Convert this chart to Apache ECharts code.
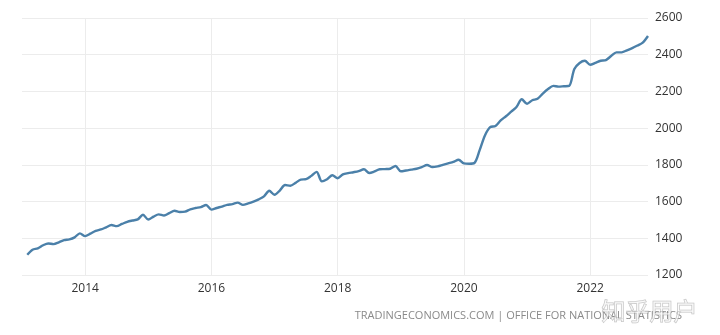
<!DOCTYPE html>
<html>
<head>
<meta charset="utf-8">
<script src="https://cdn.jsdelivr.net/npm/echarts@6/dist/echarts.min.js"></script>
<style>
  html, body { margin: 0; padding: 0; background: #fff; }
  #chart { width: 720px; height: 335px; }
</style>
</head>
<body>
<div id="chart"></div>
<script>
// Monthly series, Feb 2013 – Dec 2022
const startYear = 2013;
const startMonth = 2;
const values = [
  /* 2013 */ 1310, 1338, 1345, 1362, 1372, 1368, 1378, 1390, 1394, 1405, 1427,
  /* 2014 */ 1412, 1425, 1440, 1448, 1460, 1472, 1466, 1478, 1490, 1497, 1503, 1528,
  /* 2015 */ 1502, 1518, 1530, 1524, 1537, 1550, 1543, 1545, 1558, 1565, 1570, 1581,
  /* 2016 */ 1556, 1565, 1573, 1582, 1586, 1594, 1582, 1590, 1600, 1612, 1628, 1659,
  /* 2017 */ 1637, 1660, 1690, 1686, 1702, 1720, 1722, 1740, 1762, 1710, 1722, 1743,
  /* 2018 */ 1727, 1748, 1755, 1760, 1766, 1776, 1756, 1764, 1776, 1777, 1779, 1794,
  /* 2019 */ 1765, 1769, 1774, 1779, 1788, 1799, 1788, 1792, 1800, 1808, 1816, 1828,
  /* 2020 */ 1808, 1806, 1810, 1880, 1960, 2005, 2012, 2042, 2065, 2090, 2115, 2157,
  /* 2021 */ 2133, 2152, 2160, 2188, 2213, 2230, 2226, 2228, 2230, 2322, 2355, 2367,
  /* 2022 */ 2345, 2356, 2367, 2371, 2393, 2413, 2413, 2424, 2436, 2450, 2466, 2502
];
const yearTicks = [2014, 2016, 2018, 2020, 2022];
const yTicks = [1200, 1400, 1600, 1800, 2000, 2200, 2400, 2600];
const sourceText = 'TRADINGECONOMICS.COM | OFFICE FOR NATIONAL STATISTICS';
const watermarkText = '知乎用户';

// pair each value with its month expressed as a fractional year
const points = values.map((v, i) => {
  const m = startMonth - 1 + i;
  return [startYear + Math.floor(m / 12) + (m % 12) / 12, v];
});

const chart = echarts.init(document.getElementById('chart'));
chart.setOption({
  animation: false,
  backgroundColor: '#ffffff',
  grid: { left: 22, right: 72, top: 18, bottom: 60 },
  xAxis: {
    type: 'value',
    min: 2013,
    max: 2022 + 11 / 12,
    axisLine: { show: false },
    axisTick: { show: false, customValues: yearTicks },
    axisLabel: {
      customValues: yearTicks,
      color: '#333',
      fontSize: 12,
      fontFamily: 'Open Sans',
      margin: 8,
      formatter: v => String(v)
    },
    splitLine: { show: true, lineStyle: { color: '#ececec', width: 1 } }
  },
  yAxis: {
    type: 'value',
    position: 'right',
    min: 1200,
    max: 2600,
    interval: 200,
    axisLine: { show: false },
    axisTick: { show: false },
    axisLabel: {
      color: '#333',
      fontSize: 12,
      fontFamily: 'Open Sans',
      margin: 7,
      formatter: v => yTicks.includes(v) ? String(v) : ''
    },
    splitLine: { lineStyle: { color: '#ececec', width: 1 } }
  },
  series: [{
    type: 'line',
    data: points,
    showSymbol: false,
    smooth: 0.3,
    lineStyle: { color: '#4b80a9', width: 2.4 },
    itemStyle: { color: '#4b80a9' }
  }],
  graphic: [
    {
      type: 'text',
      right: 38,
      top: 310,
      style: {
        text: sourceText,
        fill: '#8a8a8a',
        font: '11px "Open Sans"'
      }
    },
    {
      type: 'text',
      right: 22,
      top: 298,
      style: {
        text: watermarkText,
        fill: 'rgba(255,255,255,0.55)',
        stroke: 'rgba(150,150,150,0.6)',
        lineWidth: 1,
        font: '24px "Noto Sans CJK SC"'
      }
    }
  ]
});
</script>
</body>
</html>
